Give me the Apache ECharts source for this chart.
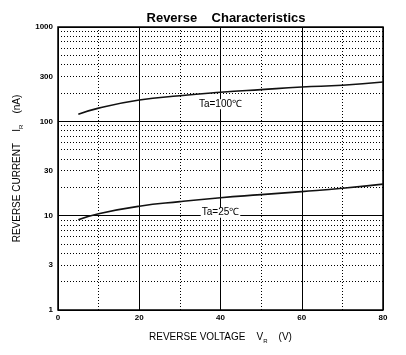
<!DOCTYPE html>
<html>
<head>
<meta charset="utf-8">
<script src="https://cdn.jsdelivr.net/npm/echarts@6/dist/echarts.min.js"></script>
<style>html,body{margin:0;padding:0;background:#fff}#c{width:406px;height:355px}</style>
</head>
<body>
<div id="c"></div>
<script>
// ---- data ----
const voltages = [5, 10, 20, 30, 40, 50, 60, 70, 80];
const current100 = [118.6, 138, 168, 187, 203, 217, 231, 241, 261];
const current25 = [9.07, 10.5, 12.6, 14.1, 15.5, 16.7, 18.0, 19.5, 21.6];
const seriesNames = ['Ta=100℃', 'Ta=25℃'];
const labelAtVoltage = 40;
const xTicks = [0, 20, 40, 60, 80];
const yMajorTicks = [1, 10, 100, 1000];
const yMinorLines = [2, 3, 4, 5, 6, 7, 8, 9, 20, 30, 40, 50, 60, 70, 80, 90, 200, 300, 400, 500, 600, 700, 800, 900];
const yExtraLabels = [3, 30, 300];

const FONT = '"Liberation Sans", Arial, sans-serif';
const chart = echarts.init(document.getElementById('c'), null, {renderer: 'canvas'});

function makeData(vals, lblOpts) {
  return voltages.map((v, i) => {
    const item = {value: [v, vals[i]]};
    if (v === labelAtVoltage) item.label = lblOpts;
    return item;
  });
}
const curveLabel = (name, dist) => ({
  show: true, position: 'bottom', distance: dist, formatter: name,
  fontFamily: FONT, fontSize: 10, color: '#000', backgroundColor: '#fff', padding: [0, 1]
});

chart.setOption({
  animation: false,
  backgroundColor: '#fff',
  title: {
    text: 'Reverse    Characteristics', left: 221, textAlign: 'center', top: 7,
    textStyle: {fontFamily: FONT, fontSize: 13, fontWeight: 'bold', color: '#000'}
  },
  grid: {left: 58, right: 23, top: 27, bottom: 45, show: true, borderColor: '#000', borderWidth: 1.5},
  xAxis: [{
    type: 'value', min: xTicks[0], max: xTicks[xTicks.length - 1], interval: 20,
    axisLine: {show: false}, axisTick: {show: false},
    axisLabel: {fontFamily: FONT, fontSize: 8, fontWeight: 'bold', color: '#000', margin: 4},
    splitLine: {show: true, lineStyle: {color: '#000', width: 1, type: 'solid'}},
    name: '{n|REVERSE VOLTAGE    V}{s|R}{n|    (V)}', nameLocation: 'middle', nameGap: 20,
    nameTextStyle: {rich: {
      n: {fontFamily: FONT, fontSize: 10, color: '#000'},
      s: {fontFamily: FONT, fontSize: 6, color: '#000', padding: [8, 0, 0, 0]}
    }}
  }, {
    type: 'value', min: 0, max: 80, interval: 10, position: 'bottom',
    axisLine: {show: false}, axisTick: {show: false}, axisLabel: {show: false},
    splitLine: {show: true, lineStyle: {color: '#000', width: 1, type: [1, 2]}}
  }],
  yAxis: {
    type: 'log', logBase: 10, min: yMajorTicks[0], max: yMajorTicks[yMajorTicks.length - 1],
    axisLine: {show: false}, axisTick: {show: false},
    axisLabel: {fontFamily: FONT, fontSize: 8, fontWeight: 'bold', color: '#000', margin: 5,
      formatter: v => String(Math.round(v))},
    splitLine: {show: true, lineStyle: {color: '#000', width: 1}},
    name: '{n|REVERSE CURRENT    I}{s|R}{n|    (nA)}', nameLocation: 'middle', nameGap: 28,
    nameTextStyle: {rich: {
      n: {fontFamily: FONT, fontSize: 10, color: '#000'},
      s: {fontFamily: FONT, fontSize: 6, color: '#000', padding: [8, 0, 0, 0]}
    }}
  },
  series: [{
    name: 'grid', type: 'line', data: [], silent: true,
    markLine: {
      silent: true, symbol: 'none', animation: false,
      lineStyle: {color: '#000', width: 1, type: [1, 2]},
      label: {show: false},
      data: yMinorLines.map(v => ({
        yAxis: v,
        label: {
          show: yExtraLabels.includes(v), position: 'start', distance: 5, formatter: String(v),
          fontFamily: FONT, fontSize: 8, fontWeight: 'bold', color: '#000'
        }
      }))
    }
  }, {
    name: seriesNames[0], type: 'line', smooth: true, showSymbol: true, symbol: 'circle', symbolSize: 0,
    z: 5, lineStyle: {color: '#111', width: 1.6},
    data: makeData(current100, curveLabel(seriesNames[0], 7))
  }, {
    name: seriesNames[1], type: 'line', smooth: true, showSymbol: true, symbol: 'circle', symbolSize: 0,
    z: 5, lineStyle: {color: '#111', width: 1.6},
    data: makeData(current25, curveLabel(seriesNames[1], 10))
  }]
});
</script>
</body>
</html>
